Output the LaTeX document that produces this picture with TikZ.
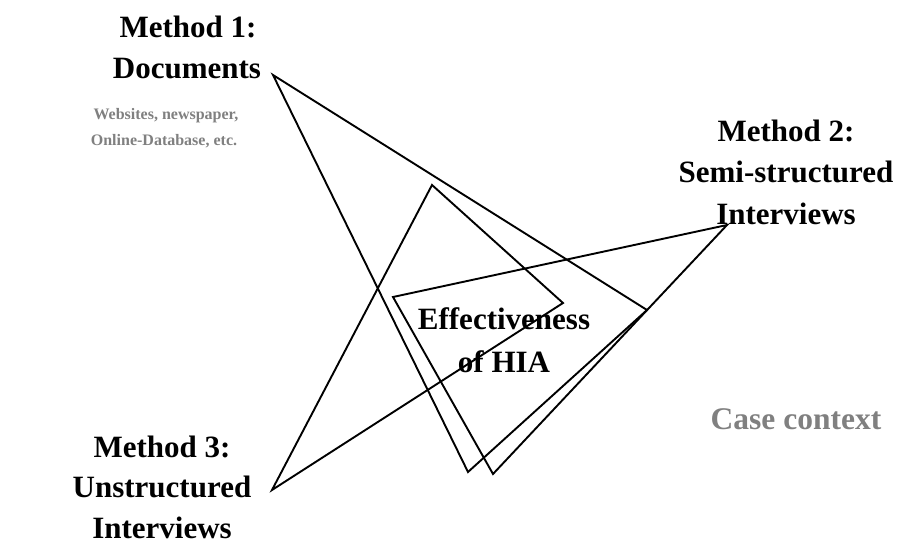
\documentclass[tikz,border=0pt]{standalone}
\usepackage{fontspec}
\setmainfont{Liberation Serif}
\begin{document}
\begin{tikzpicture}[x=1pt,y=-1pt,
  title/.style={font=\fontsize{31}{42}\selectfont\bfseries, inner sep=0pt, anchor=base},
  note/.style={font=\fontsize{16}{26}\selectfont\bfseries, text=notegray, inner sep=0pt, anchor=base},
  ctx/.style={font=\fontsize{31.5}{36}\selectfont\bfseries, text=notegray, inner sep=0pt, anchor=base},
  tri/.style={draw=black, line width=1.9pt, line join=miter}]
\definecolor{notegray}{HTML}{808080}
\useasboundingbox (0,0) rectangle (902,545);

% method 1
\node[title] (m1a) at (188,38) {Method 1:};
\node[title] (m1b) at (187,79) {Documents};
\node[note] (n1a) at (166,120) {Websites, newspaper,};
\node[note] (n1b) at (164,146) {Online-Database, etc.};

% method 2
\node[title] (m2a) at (786,142) {Method 2:};
\node[title] (m2b) at (786,183) {Semi-structured};
\node[title] (m2c) at (786,225) {Interviews};

% method 3
\node[title] (m3a) at (162,457) {Method 3:};
\node[title] (m3b) at (162,497) {Unstructured};
\node[title] (m3c) at (162,538) {Interviews};

% centre
\node[title] (ea) at (504,329) {Effectiveness};
\node[title] (eb) at (504,372) {of HIA};

\node[ctx] (cc) at (796,429) {Case context};

% triangle corners
\coordinate (a1) at (273,75);
\coordinate (a2) at (647,310);
\coordinate (a3) at (468,472);
\coordinate (b1) at (727,225);
\coordinate (b2) at (393,297);
\coordinate (b3) at (493,474);
\coordinate (c1) at (272,490);
\coordinate (c2) at (432,185);
\coordinate (c3) at (563,303);

\draw[tri] (a1) -- (a2) -- (a3) -- cycle;
\draw[tri] (b1) -- (b2) -- (b3) -- cycle;
\draw[tri] (c1) -- (c2) -- (c3) -- cycle;
\end{tikzpicture}
\end{document}
